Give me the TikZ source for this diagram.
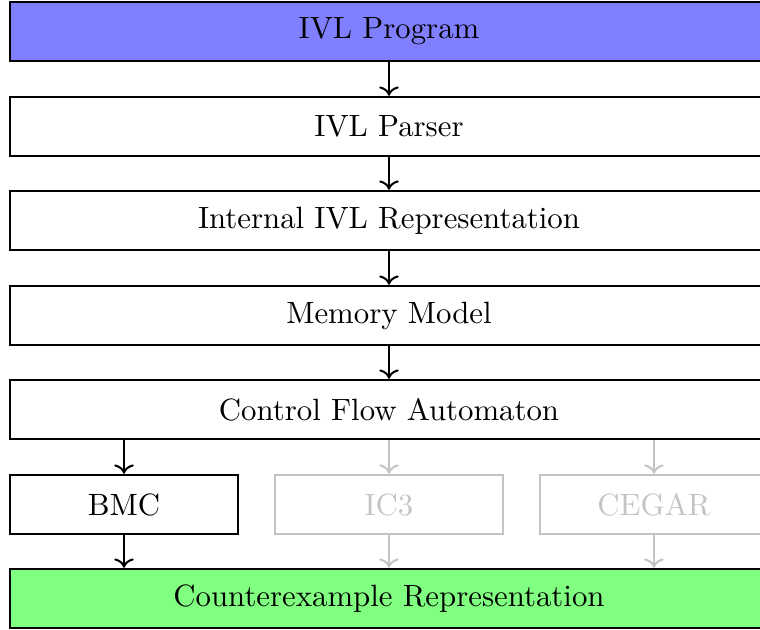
\documentclass[tikz,border=0pt]{standalone}
\usetikzlibrary{arrows.meta}
\definecolor{dimgray}{gray}{0.77}
\begin{document}
\begin{tikzpicture}[x=0.3247pt,y=-0.3247pt,
  box/.style={draw=black,line width=0.8pt,inner sep=0pt,
    minimum height=59*0.3247pt},
  widebox/.style={box,minimum width=758*0.3247pt},
  smallbox/.style={box,minimum width=228*0.3247pt},
  off/.style={draw=dimgray,text=dimgray},
  flow/.style={->,line width=0.65pt},
  offflow/.style={flow,draw=dimgray}]
\useasboundingbox (0,0) rectangle (760,630);
\node[widebox,fill=blue!50] (prog) at (389,31.5) {IVL Program};
\node[widebox] (parser) at (389,126.5) {IVL Parser};
\node[widebox] (repr) at (389,220.5) {Internal IVL Representation};
\node[widebox] (mem) at (389,315.5) {Memory Model};
\node[widebox] (cfa) at (389,409.5) {Control Flow Automaton};
\node[smallbox] (bmc) at (124,504.5) {BMC};
\node[smallbox,off] (ic3) at (389,504.5) {IC3};
\node[smallbox,off] (cegar) at (654,504.5) {CEGAR};
\node[widebox,fill=green!50] (cex) at (389,598.5) {Counterexample Representation};
\draw[flow] (prog) -- (parser);
\draw[flow] (parser) -- (repr);
\draw[flow] (repr) -- (mem);
\draw[flow] (mem) -- (cfa);
\draw[flow] (cfa.south -| bmc.north) -- (bmc.north);
\draw[offflow] (cfa.south -| ic3.north) -- (ic3.north);
\draw[offflow] (cfa.south -| cegar.north) -- (cegar.north);
\draw[flow] (bmc.south) -- (bmc.south |- cex.north);
\draw[offflow] (ic3.south) -- (ic3.south |- cex.north);
\draw[offflow] (cegar.south) -- (cegar.south |- cex.north);
\end{tikzpicture}
\end{document}
